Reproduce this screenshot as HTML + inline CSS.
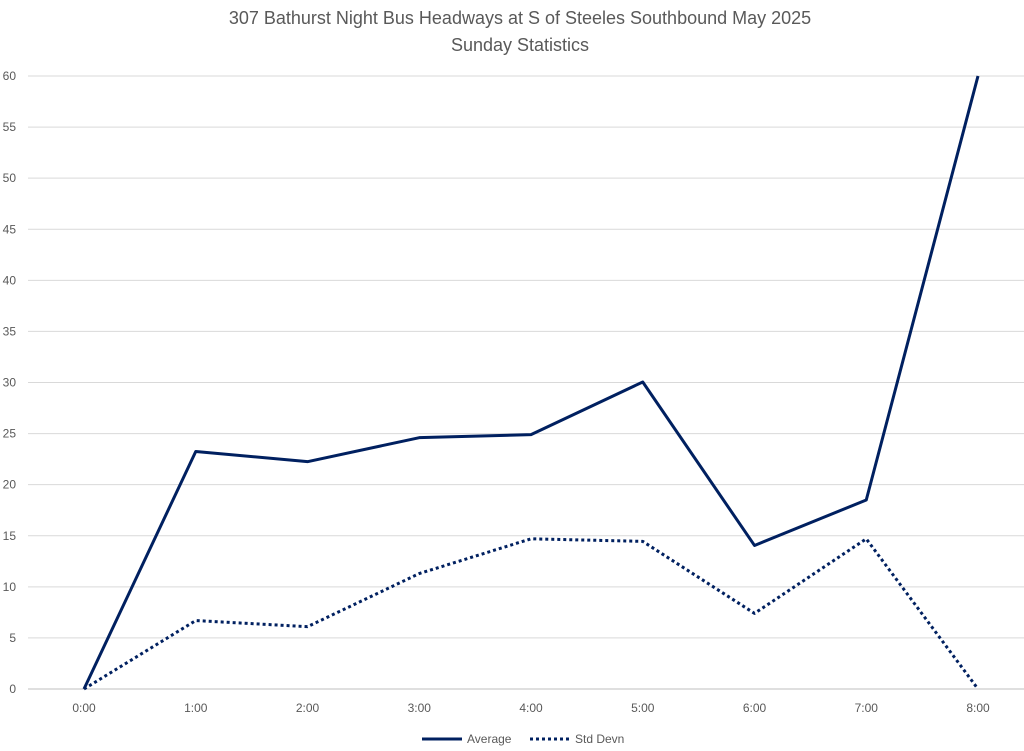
<!DOCTYPE html>
<html><head><meta charset="utf-8"><style>
html,body{margin:0;padding:0;background:#fff;}
svg{display:block;font-family:"Liberation Sans",Arial,sans-serif;}
</style></head><body>
<svg id="chart" width="1024" height="751" viewBox="0 0 1024 751">
<text x="520" y="24" text-anchor="middle" font-size="18" fill="#595959">307 Bathurst Night Bus Headways at S of Steeles Southbound May 2025</text>
<text x="520" y="51" text-anchor="middle" font-size="18" fill="#595959">Sunday Statistics</text>
<g id="grid"></g><g id="yt"></g><g id="xt"></g><g id="series"></g>
<g>
<line x1="422" y1="739" x2="462" y2="739" stroke="#002060" stroke-width="3"/>
<text x="467" y="743" font-size="12" fill="#595959">Average</text>
<line x1="530" y1="739" x2="570" y2="739" stroke="#002060" stroke-width="3" stroke-dasharray="3,3"/>
<text x="575" y="743" font-size="12" fill="#595959">Std Devn</text>
</g>
</svg>
<script>
const categories=["0:00","1:00","2:00","3:00","4:00","5:00","6:00","7:00","8:00"];
const averageValues=[0,23.25,22.25,24.6,24.9,30.05,14.05,18.5,60];
const stdDevValues=[0,6.7,6.1,11.3,14.7,14.45,7.4,14.7,0];
const yTicks=[0,5,10,15,20,25,30,35,40,45,50,55,60];
const NS="http://www.w3.org/2000/svg";
const x0=84,x1=978,yB=689,yT=76,yMax=60;
const xs=i=>x0+i*(x1-x0)/(categories.length-1);
const ys=v=>yB-v*(yB-yT)/yMax;
function mk(t,a,p){const e=document.createElementNS(NS,t);for(const k in a)e.setAttribute(k,a[k]);p.appendChild(e);return e;}
const grid=document.getElementById('grid'),yt=document.getElementById('yt'),xt=document.getElementById('xt'),ser=document.getElementById('series');
yTicks.forEach(v=>{
 const l=mk('line',{x1:28,x2:1024,y1:ys(v),y2:ys(v),stroke:v===0?'#bfbfbf':'#d9d9d9','stroke-width':1},grid);
 
 
 const t=mk('text',{x:16,y:ys(v)+4,'text-anchor':'end','font-size':12,fill:'#595959'},yt);
 t.textContent=v;
 
 
});
categories.forEach((c,i)=>{
 const t=mk('text',{x:xs(i),y:712,'text-anchor':'middle','font-size':12,fill:'#595959'},xt);
 t.textContent=c;
 
 
});
function line(vals,dash,name){
 const p=mk('polyline',{points:vals.map((v,i)=>xs(i)+','+ys(v)).join(' '),fill:'none',stroke:'#002060','stroke-width':3,'stroke-linejoin':'round'},ser);
 if(dash)p.setAttribute('stroke-dasharray',dash);
 
 
}
line(averageValues,null,'average-line');
line(stdDevValues,'3,3','stddev-line');
</script>
</body></html>
